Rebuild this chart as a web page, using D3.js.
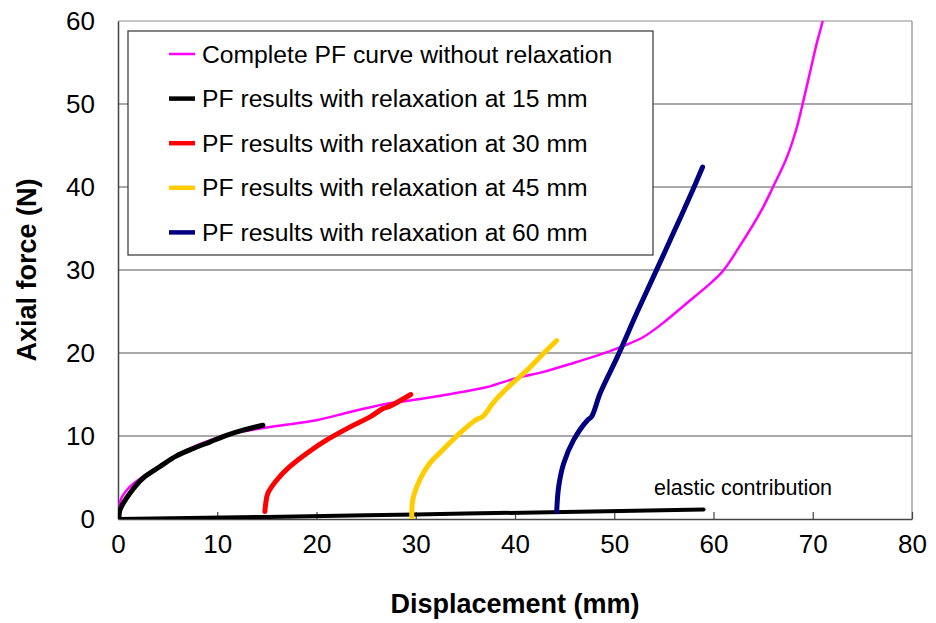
<!DOCTYPE html>
<html>
<head>
<meta charset="utf-8">
<script src="https://cdn.jsdelivr.net/npm/d3@7"></script>
<style>
  body { margin: 0; background: #fff; }
  svg { font-family: Arial, "Liberation Sans", sans-serif; }
</style>
</head>
<body>
<div class="chart"></div>
<script>
const W = 936, H = 623;
const xTicks = [0, 10, 20, 30, 40, 50, 60, 70, 80];
const yTicks = [0, 10, 20, 30, 40, 50, 60];

const seriesNames = [
  "Complete PF curve without relaxation",
  "PF results with relaxation at 15 mm",
  "PF results with relaxation at 30 mm",
  "PF results with relaxation at 45 mm",
  "PF results with relaxation at 60 mm"
];
const seriesColors = ["#ff00ff", "#000000", "#ff0000", "#ffcc00", "#000080"];

// [displacement mm, force N]
const complete = [[0,0],[0.1,1.2],[0.3,2.4],[1.2,3.9],[2.5,5.1],[4.2,6.4],[5.9,7.7],[7.6,8.7],
  [9.3,9.5],[11,10.2],[13.3,10.7],[16,11.2],[20,11.9],[23.4,12.9],[26.7,13.8],[28.4,14.1],
  [31.7,14.7],[35.1,15.4],[37.2,15.9],[40.2,17],[42.8,17.7],[45.9,18.8],[49.3,20.1],
  [50.6,20.7],[52.9,21.9],[54.9,23.6],[57.3,26],[59.3,28],[60.9,29.8],[62.5,32.6],[64.7,36.9],
  [66,40],[67.4,43.6],[68.4,47.2],[69,50.1],[69.7,53.7],[70.4,57.3],[71,60],[71.3,62]];
const relax15 = [[0.1,0.3],[0.2,1.1],[1.2,3.1],[2.5,4.9],[4.2,6.3],[5.9,7.6],[7.6,8.5],
  [9.3,9.3],[11,10.1],[12.6,10.7],[14.6,11.3]];
const relax30 = [[14.8,0.9],[14.9,2],[15.1,3.1],[16,4.7],[17.3,6.3],[19,7.9],[21,9.5],
  [23.4,11.1],[25.4,12.3],[26.7,13.3],[27.4,13.6],[29.5,15]];
const relax45 = [[29.6,0.2],[29.7,2.3],[30.4,4.7],[31.4,6.7],[32.7,8.3],[34.5,10.4],
  [36,11.9],[36.8,12.4],[37.8,14],[39.5,16.1],[41.2,17.9],[42.5,19.5],[44.2,21.5]];
const relax60 = [[44.2,0.9],[44.4,3.9],[44.9,6.7],[45.9,9.5],[47.3,11.9],[47.7,12.3],
  [48.6,15.2],[50.3,19.5],[52.3,24.9],[54.3,30.1],[55.9,34.3],[57.9,39.6],[58.9,42.4]];
const elastic = [[0,0],[15,0.25],[30,0.55],[45,0.85],[59,1.15]];

const margin = {left: 118, top: 21, right: 24, bottom: 104};
const x = d3.scaleLinear().domain([0, 80]).range([margin.left, W - margin.right]);
const y = d3.scaleLinear().domain([0, 60]).range([H - margin.bottom, margin.top]);

const svg = d3.select(".chart").append("svg")
  .attr("width", W).attr("height", H);

svg.append("defs").append("clipPath").attr("id", "clip")
  .append("rect").attr("x", x(0)).attr("y", y(60))
  .attr("width", x(80) - x(0)).attr("height", y(0) - y(60));

// gridlines
svg.append("g").selectAll("line").data(yTicks.filter(d => d > 0)).enter().append("line")
  .attr("x1", x(0)).attr("x2", x(80))
  .attr("y1", d => y(d)).attr("y2", d => y(d))
  .attr("stroke", d => d === 60 ? "#8c8c8c" : "#555").attr("stroke-width", 1.2);

// right border
svg.append("line").attr("x1", x(80)).attr("x2", x(80)).attr("y1", y(60)).attr("y2", y(0))
  .attr("stroke", "#8c8c8c").attr("stroke-width", 1.2);

// axes
const xAxis = d3.axisBottom(x).tickValues(xTicks).tickSizeInner(-7).tickSizeOuter(0).tickPadding(16);
const gx = svg.append("g").attr("transform", `translate(0,${y(0)})`).call(xAxis);
const yAxis = d3.axisLeft(y).tickValues(yTicks).tickSizeInner(0).tickSizeOuter(0).tickPadding(23);
const gy = svg.append("g").attr("transform", `translate(${x(0)},0)`).call(yAxis);
[gx, gy].forEach(g => {
  g.select(".domain").attr("stroke", "#444").attr("stroke-width", 1.5);
  g.selectAll(".tick line").attr("stroke", "#444").attr("stroke-width", 1.2);
  g.selectAll(".tick text").attr("font-size", 26).attr("fill", "#000")
    .attr("font-family", "Arial, 'Liberation Sans', sans-serif");
});
gx.selectAll(".tick text").attr("dy", "0.71em");

// legend
const lg = svg.append("g");
lg.append("rect").attr("x", 128).attr("y", 31).attr("width", 525).attr("height", 224)
  .attr("fill", "#fff").attr("stroke", "#333").attr("stroke-width", 1.2);
seriesNames.forEach((name, i) => {
  const cy = 54 + i * 44.6;
  lg.append("line").attr("x1", 169).attr("x2", 195).attr("y1", cy).attr("y2", cy)
    .attr("stroke", seriesColors[i]).attr("stroke-width", i === 0 ? 2.5 : 4.5);
  lg.append("text").attr("x", 202).attr("y", cy).attr("dy", "0.35em")
    .attr("font-size", 24.7).text(name);
});

// curves
const line = d3.line().x(d => x(d[0])).y(d => y(d[1])).curve(d3.curveCatmullRom.alpha(0.5));
const plot = svg.append("g").attr("clip-path", "url(#clip)");
plot.append("path").datum(elastic).attr("d", line).attr("fill", "none")
  .attr("stroke", "#000").attr("stroke-width", 4).attr("stroke-linecap", "round");
const curves = [complete, relax15, relax30, relax45, relax60];
curves.forEach((c, i) => {
  plot.append("path").datum(c).attr("d", line).attr("fill", "none")
    .attr("stroke", seriesColors[i]).attr("stroke-width", i === 0 ? 2.5 : 5)
    .attr("stroke-linecap", "round").attr("stroke-linejoin", "round");
});

svg.append("text").attr("x", 654).attr("y", 495).attr("font-size", 21.5)
  .text("elastic contribution");

// axis titles
svg.append("text").attr("x", x(40)).attr("y", 613).attr("text-anchor", "middle")
  .attr("font-size", 27).attr("font-weight", "bold").text("Displacement (mm)");
svg.append("text").attr("text-anchor", "middle").attr("font-size", 27).attr("font-weight", "bold")
  .attr("transform", `translate(36,${(y(0) + y(60)) / 2}) rotate(-90)`).text("Axial force (N)");
</script>
</body>
</html>
